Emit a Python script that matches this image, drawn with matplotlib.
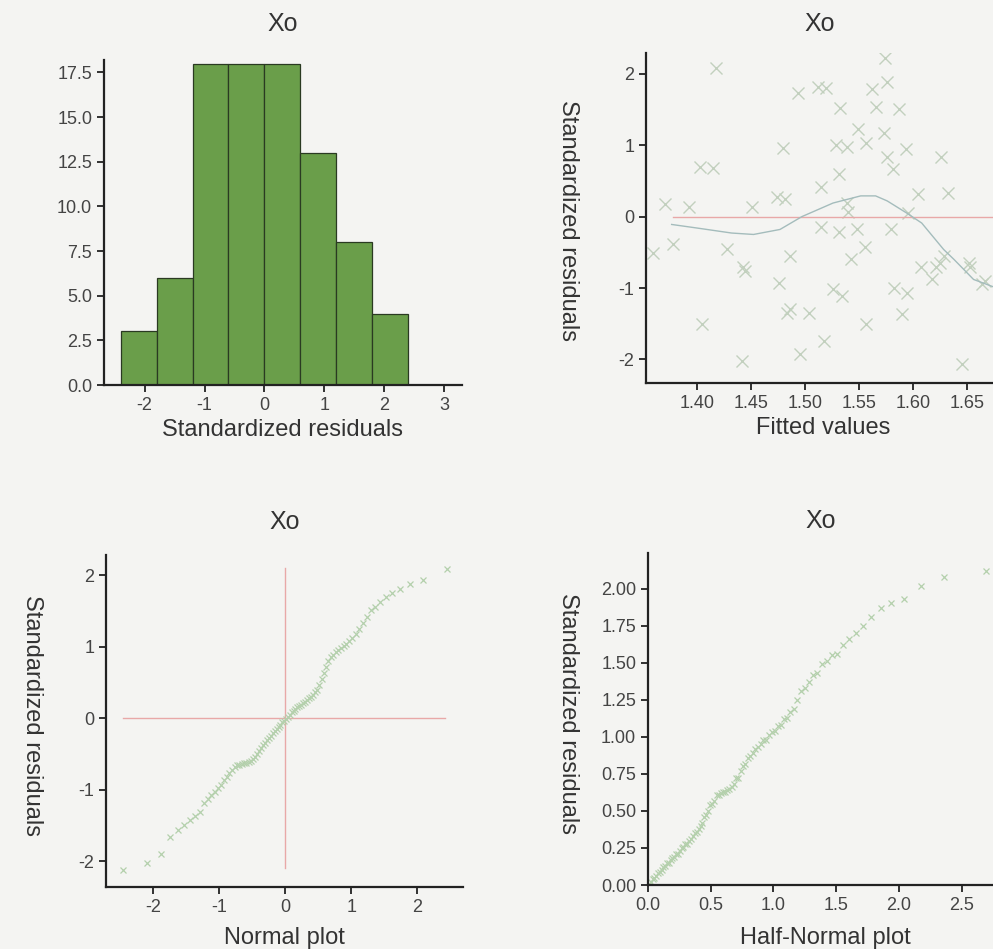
import numpy as np
import matplotlib
matplotlib.use("Agg")
import matplotlib.pyplot as plt
from statistics import NormalDist

plt.rcParams['font.family'] = ['Liberation Sans', 'DejaVu Sans']
plt.rcParams['axes.unicode_minus'] = False

residuals = [-2.12, -2.02, -1.90,
             -1.66, -1.56, -1.49, -1.43, -1.37, -1.31,
             -1.19, -1.13, -1.07, -1.03, -0.98, -0.93, -0.87, -0.82, -0.77,
             -0.72, -0.68, -0.66, -0.65, -0.64, -0.63, -0.62, -0.61, -0.605,
             -0.57, -0.54, -0.50, -0.46, -0.42, -0.38, -0.35, -0.31, -0.28,
             -0.25, -0.21, -0.18, -0.15, -0.12, -0.09, -0.06, -0.04, -0.01,
             0.02, 0.05, 0.08, 0.10, 0.13, 0.15, 0.17, 0.19, 0.21,
             0.23, 0.26, 0.28, 0.30, 0.33, 0.36, 0.40, 0.47, 0.55,
             0.63, 0.72, 0.80, 0.86, 0.89, 0.92, 0.95, 0.98, 1.01,
             1.04, 1.08, 1.12, 1.17,
             1.25, 1.33, 1.42, 1.51, 1.55, 1.62, 1.70, 1.75,
             1.81, 1.87, 1.93, 2.08]
hist_bins = [-2.4, -1.8, -1.2, -0.6, 0.0, 0.6, 1.2, 1.8, 2.4]

# residuals vs fitted values (visible points)
fitted = [1.4171, 1.4939, 1.5120, 1.5195, 1.5323, 1.5621, 1.5760, 1.5739, 1.5653, 1.5867,
          1.4800, 1.5291, 1.5387, 1.5493, 1.5568, 1.5728, 1.5760, 1.5931, 1.5813, 1.6261,
          1.4032, 1.4149, 1.5312, 1.5152, 1.4736, 1.4811, 1.4512, 1.3925, 1.3701, 1.5387,
          1.5397, 1.6048, 1.6325, 1.5952, 1.5152, 1.5312, 1.5483, 1.5792, 1.4864, 1.4277,
          1.4427, 1.4448, 1.5429, 1.5557, 1.6069, 1.6208, 1.6251, 1.6176, 1.6517, 1.6667,
          1.4757, 1.5259, 1.5344, 1.5824, 1.5941, 1.4832, 1.4864, 1.5035, 1.5568, 1.5899,
          1.4043, 1.5173, 1.4416, 1.4949, 1.6453, 1.3595, 1.3776, 1.6283, 1.6635, 1.6528]
fit_resid = [2.08, 1.73, 1.82, 1.80, 1.52, 1.78, 1.89, 2.22, 1.54, 1.50,
             0.96, 1.00, 0.98, 1.22, 1.03, 1.17, 0.84, 0.94, 0.66, 0.84,
             0.70, 0.68, 0.59, 0.42, 0.28, 0.24, 0.14, 0.14, 0.17, 0.19,
             0.07, 0.31, 0.33, 0.05, -0.14, -0.21, -0.18, -0.18, -0.55, -0.46,
             -0.70, -0.76, -0.60, -0.42, -0.70, -0.70, -0.65, -0.88, -0.65, -0.90,
             -0.93, -1.02, -1.11, -1.00, -1.07, -1.35, -1.30, -1.35, -1.51, -1.37,
             -1.51, -1.74, -2.02, -1.93, -2.07, -0.51, -0.39, -0.55, -0.95, -0.70]

# smoothed trend through the residuals
smooth_x = [1.3765, 1.40, 1.432, 1.4523, 1.4768, 1.4971, 1.5259, 1.5515, 1.5653,
            1.576, 1.5941, 1.608, 1.6283, 1.6379, 1.656, 1.6773]
smooth_y = [-0.11, -0.16, -0.23, -0.25, -0.18, 0.0, 0.19, 0.29, 0.29,
            0.22, 0.05, -0.09, -0.46, -0.60, -0.88, -1.0]

bg = '#f4f4f2'
bar_col = '#6a9e4a'
mark_col = '#b4d0ac'
red_col = '#e8a8a8'
txt_col = '#333333'

fig = plt.figure(figsize=(9.93, 9.49), dpi=100, facecolor=bg)

def style(ax):
    ax.set_facecolor(bg)
    for s in ['top', 'right']:
        ax.spines[s].set_visible(False)
    for s in ['left', 'bottom']:
        ax.spines[s].set_linewidth(1.6)
        ax.spines[s].set_color('#222222')
    ax.tick_params(direction='out', length=5, width=1.3, colors='#222222',
                   labelsize=13, labelcolor='#444444')

def labels(ax, xl, xpos, ylab=None, ypos=None, ty=1.08):
    ax.set_title('Xo', y=ty, va='center', fontsize=18, color=txt_col)
    ax.set_xlabel(xl, fontsize=17, color=txt_col, va='center')
    ax.xaxis.set_label_coords(*xpos)
    if ylab:
        ax.set_ylabel(ylab, fontsize=17, color=txt_col, rotation=270,
                      va='center', ha='center')
        ax.yaxis.set_label_coords(*ypos)

# histogram
ax1 = fig.add_axes([0.1047, 0.5943, 0.3605, 0.3425])
style(ax1)
ax1.hist(residuals, bins=hist_bins, color=bar_col, edgecolor='#2a3a22', linewidth=0.9)
ax1.set_xlim(-2.68, 3.3)
ax1.set_ylim(0, 18.2)
ax1.set_xticks([-2, -1, 0, 1, 2, 3])
ax1.set_yticks(np.arange(0, 17.6, 2.5))
ax1.set_yticklabels(['%.1f' % v for v in np.arange(0, 17.6, 2.5)])
labels(ax1, 'Standardized residuals', (0.5, -0.138), ty=1.086)

# residuals vs fitted
ax2 = fig.add_axes([0.6506, 0.5964, 0.3494, 0.3477])
style(ax2)
ax2.plot(fitted, fit_resid, 'x', color='#c2d0be', ms=8, mew=1.0)
ax2.axhline(0, xmin=(1.3778 - 1.3528) / (1.674 - 1.3528), color=red_col, lw=1.0)
ax2.plot(smooth_x, smooth_y, color='#a4bcbc', lw=1.0)
ax2.set_xlim(1.3528, 1.674)
ax2.set_ylim(-2.33, 2.29)
ax2.set_xticks([1.40, 1.45, 1.50, 1.55, 1.60, 1.65])
ax2.set_xticklabels(['1.40', '1.45', '1.50', '1.55', '1.60', '1.65'])
ax2.set_yticks([-2, -1, 0, 1, 2])
labels(ax2, 'Fitted values', (0.51, -0.136), 'Standardized residuals',
       (-0.225, 0.494), ty=1.064)

# normal plot
n = len(residuals)
nd = NormalDist()
normq = [nd.inv_cdf((i - 0.375) / (n + 0.25)) for i in range(1, n + 1)]
ax3 = fig.add_axes([0.1067, 0.0653, 0.3595, 0.3498])
style(ax3)
ax3.plot([0, 0], [-2.1, 2.1], color=red_col, lw=1.0)
ax3.plot([-2.45, 2.42], [0, 0], color=red_col, lw=1.0)
ax3.plot(normq, sorted(residuals), 'x', color=mark_col, ms=5, mew=0.9)
ax3.set_xlim(-2.71, 2.69)
ax3.set_ylim(-2.36, 2.28)
ax3.set_xticks([-2, -1, 0, 1, 2])
ax3.set_yticks([-2, -1, 0, 1, 2])
labels(ax3, 'Normal plot', (0.5, -0.154), 'Standardized residuals',
       (-0.207, 0.518), ty=1.075)

# half-normal plot
halfq = [nd.inv_cdf((i + n - 0.125) / (2 * n + 0.5)) for i in range(1, n + 1)]
ax4 = fig.add_axes([0.6526, 0.0674, 0.3474, 0.3498])
style(ax4)
ax4.plot(halfq, sorted(abs(np.array(residuals))), 'x', color=mark_col, ms=5, mew=0.9)
ax4.set_xlim(0, 2.75)
ax4.set_ylim(0, 2.24)
ax4.set_xticks([0.0, 0.5, 1.0, 1.5, 2.0, 2.5])
ax4.set_xticklabels(['0.0', '0.5', '1.0', '1.5', '2.0', '2.5'])
ax4.set_yticks(np.arange(0, 2.01, 0.25))
ax4.set_yticklabels(['%.2f' % v for v in np.arange(0, 2.01, 0.25)])
labels(ax4, 'Half-Normal plot', (0.513, -0.16), 'Standardized residuals',
       (-0.232, 0.518), ty=1.072)

fig.savefig('out.png', dpi=100, facecolor=bg)
